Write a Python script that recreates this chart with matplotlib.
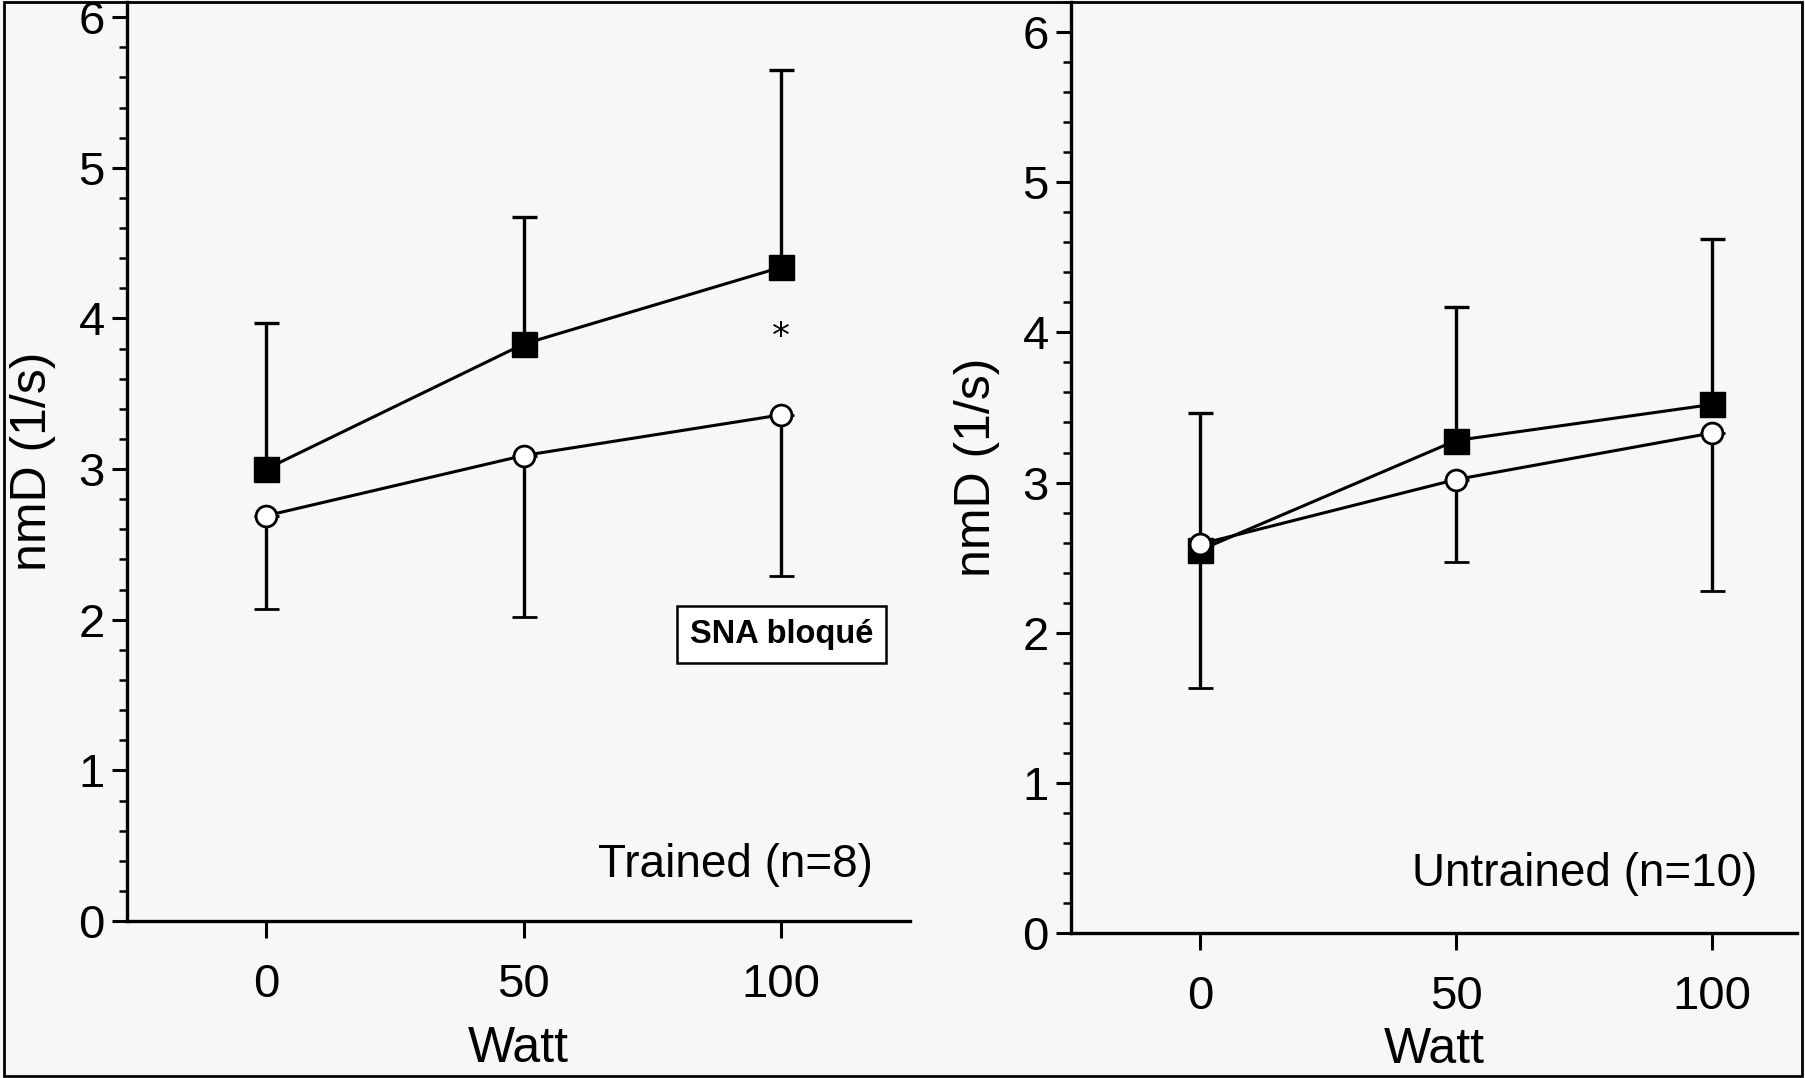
import matplotlib.pyplot as plt
from matplotlib.patches import Rectangle
from matplotlib.ticker import MultipleLocator

# Data
watts = [0, 50, 100]

# Trained (n=8)
trained_sq = [3.00, 3.83, 4.34]
trained_sq_err = [0.97, 0.84, 1.31]
trained_ci = [2.69, 3.09, 3.36]
trained_ci_err = [0.62, 1.07, 1.07]

# Untrained (n=10)
untrained_sq = [2.55, 3.28, 3.52]
untrained_sq_err = [0.91, 0.89, 1.10]
untrained_ci = [2.59, 3.02, 3.33]
untrained_ci_err = [0.96, 0.55, 1.05]

y_ticks = [0, 1, 2, 3, 4, 5, 6]
x_ticks = [0, 50, 100]

fonts = ['Liberation Sans Narrow', 'Liberation Sans', 'DejaVu Sans']
plt.rcParams['font.family'] = fonts

bg = '#f7f7f7'
fig = plt.figure(figsize=(18.06, 10.78), dpi=100, facecolor=bg)

ax1 = fig.add_axes([0.0703, 0.1456, 0.4336, 0.8525])
ax2 = fig.add_axes([0.593, 0.1345, 0.402, 0.8636])


def draw_panel(ax, sq, sq_err, ci, ci_err, xlim, ylim, xlabelpad):
    zeros = [0] * len(watts)
    ax.errorbar(watts, sq, yerr=[zeros, sq_err], color='black', lw=2.2,
                marker='s', ms=18, mfc='black', mec='black',
                elinewidth=2.4, capsize=9, capthick=2.4, zorder=3)
    ax.errorbar(watts, ci, yerr=[ci_err, zeros], color='black', lw=2.2,
                marker='o', ms=15, mfc='white', mec='black', mew=2,
                elinewidth=2.4, capsize=9, capthick=2.4, zorder=4)
    ax.set_xlim(*xlim)
    ax.set_ylim(*ylim)
    ax.set_facecolor(bg)
    ax.spines['top'].set_visible(False)
    ax.spines['right'].set_visible(False)
    ax.spines['left'].set_linewidth(2.4)
    ax.spines['bottom'].set_linewidth(2.4)
    ax.set_xticks(x_ticks)
    ax.set_yticks(y_ticks)
    ax.yaxis.set_minor_locator(MultipleLocator(0.2))
    ax.tick_params(axis='y', which='major', length=11, width=2.2,
                   labelsize=34, pad=5)
    ax.tick_params(axis='y', which='minor', length=6, width=1.8)
    ax.tick_params(axis='x', which='major', length=12, width=2.2,
                   labelsize=34, pad=18)
    ax.set_ylabel('nmD (1/s)', fontsize=36, labelpad=16)
    ax.set_xlabel('Watt', fontsize=36, labelpad=xlabelpad)


draw_panel(ax1, trained_sq, trained_sq_err, trained_ci, trained_ci_err,
           (-27, 125), (0, 6.1), 14)
draw_panel(ax2, untrained_sq, untrained_sq_err, untrained_ci, untrained_ci_err,
           (-25.2, 116.6), (0, 6.2), 6)

ax1.text(100, 3.88, '*', fontsize=26, ha='center', va='center',
         family=['DejaVu Sans'])
ax1.text(117.7, 0.37, 'Trained (n=8)', fontsize=33, ha='right', va='center')
ax2.text(108.8, 0.39, 'Untrained (n=10)', fontsize=33, ha='right', va='center')

ax1.text(100, 1.90, 'SNA bloqué', fontsize=23.5, fontweight='bold',
         family=['Liberation Sans', 'DejaVu Sans'], ha='center', va='center',
         bbox=dict(boxstyle='square,pad=0.4', fc='white', ec='black', lw=1.8),
         zorder=6)

# thin frame round the whole scan
fig.patches.append(Rectangle((0.002, 0.002), 0.996, 0.996, transform=fig.transFigure,
                             fill=False, ec='black', lw=2))

fig.savefig('out.png', dpi=100, facecolor=bg)
